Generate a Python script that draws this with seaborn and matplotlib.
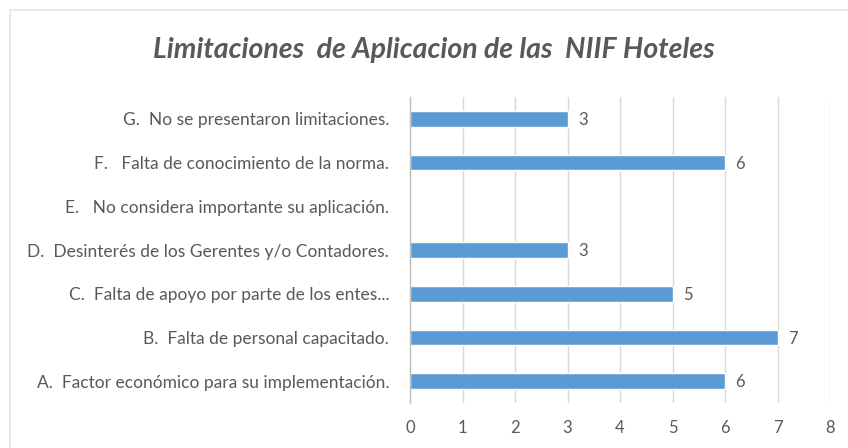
import matplotlib
matplotlib.use("Agg")
import matplotlib.pyplot as plt
import matplotlib.patches as mpatches
import seaborn as sns
import pandas as pd
import numpy as np

# datos del grafico (de arriba hacia abajo)
categorias = [
    "G.  No se presentaron limitaciones.",
    "F.   Falta de conocimiento de la norma.",
    "E.   No considera importante su aplicación.",
    "D.  Desinterés de los Gerentes y/o Contadores.",
    "C.  Falta de apoyo por parte de los entes...",
    "B.  Falta de personal capacitado.",
    "A.  Factor económico para su implementación.",
]
valores = [3, 6, 0, 3, 5, 7, 6]
x_ticks = [0, 1, 2, 3, 4, 5, 6, 7, 8]
titulo = "Limitaciones  de Aplicacion de las  NIIF Hoteles"

df = pd.DataFrame({"categoria": categorias, "valor": valores})

sns.set_style("white")
plt.rcParams["font.family"] = ["Lato", "DejaVu Sans"]

gris = "#595959"
azul = "#5B9BD5"

fig = plt.figure(figsize=(8.48, 4.48), dpi=100)
ax = fig.add_axes([410 / 848, 45 / 448, 420 / 848, 306 / 448])

sns.barplot(data=df, x="valor", y="categoria", order=categorias,
            color=azul, width=0.36, ax=ax, saturation=1)

# etiquetas de datos
for i, v in enumerate(valores):
    if v > 0:
        ax.text(v + 0.2, i + 0.03, str(v), va="center", ha="left",
                fontsize=12, color=gris)

ax.set_xlim(0, 8)
ax.set_ylim(len(categorias) - 0.5, -0.5)
ax.set_xticks(x_ticks)
ax.set_xlabel("")
ax.set_ylabel("")
ax.grid(axis="x", color="#D9D9D9", linewidth=1)
ax.set_axisbelow(True)

for s in ["top", "right", "bottom"]:
    ax.spines[s].set_visible(False)
ax.spines["left"].set_color("#BFBFBF")
ax.spines["left"].set_linewidth(1)

ax.set_yticks(np.arange(-0.5, len(categorias), 1), minor=True)
ax.tick_params(axis="y", which="minor", length=6, color="#BFBFBF", width=1)
ax.tick_params(axis="y", which="major", length=0, pad=15, labelsize=12.5,
               labelcolor=gris)
ax.tick_params(axis="x", length=0, pad=12, labelsize=12, labelcolor=gris)

fig.text(0.512, 0.888, titulo, ha="center", va="center", fontsize=20.5,
         fontstyle="italic", fontweight="bold", color=gris)

# borde del area del grafico
borde = mpatches.Rectangle((10 / 848, -0.05), 1.0, (438 / 448) + 0.05,
                           transform=fig.transFigure, fill=False,
                           edgecolor="#DCE8F5", linewidth=1.2)
fig.patches.append(borde)

fig.savefig("out.png", dpi=100)
